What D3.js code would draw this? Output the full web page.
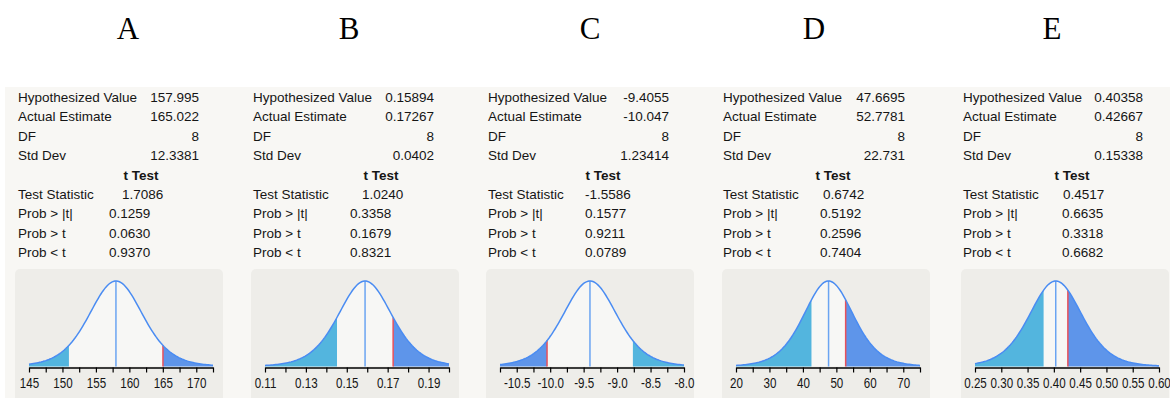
<!DOCTYPE html>
<html>
<head>
<meta charset="utf-8">
<script src="https://cdn.jsdelivr.net/npm/d3@7"></script>
<style>
  html, body { margin: 0; padding: 0; background: #ffffff; }
  svg { display: block; }
</style>
</head>
<body>
<div id="grafico"></div>
<script>
/* global d3 */

// Dados
const letters = ['A', 'B', 'C', 'D', 'E']
const hypValues = [157.995, 0.15894, -9.4055, 47.6695, 0.40358]
const actualEstimates = [165.022, 0.17267, -10.047, 52.7781, 0.42667]
const dfValues = [8, 8, 8, 8, 8]
const stdDevs = [12.3381, 0.0402, 1.23414, 22.731, 0.15338]
const stdDevLabels = ['12.3381', '0.0402', '1.23414', '22.731', '0.15338']
const testStats = ['1.7086', '1.0240', '-1.5586', '0.6742', '0.4517']
const probTwoSided = ['0.1259', '0.3358', '0.1577', '0.5192', '0.6635']
const probGreater = ['0.0630', '0.1679', '0.9211', '0.2596', '0.3318']
const probLess = ['0.9370', '0.8321', '0.0789', '0.7404', '0.6682']

// Eixos
const axisDomains = [[145, 172.5], [0.11, 0.20], [-10.75, -8.0], [20, 75], [0.25, 0.60]]
const tickSteps = [2.5, 0.01, 0.25, 5, 0.05]
const tickLabelValues = [
  [145, 150, 155, 160, 165, 170],
  [0.11, 0.13, 0.15, 0.17, 0.19],
  [-10.5, -10.0, -9.5, -9.0, -8.5, -8.0],
  [20, 30, 40, 50, 60, 70],
  [0.25, 0.30, 0.35, 0.40, 0.45, 0.50, 0.55, 0.60]
]
const tickLabelTexts = [
  ['145', '150', '155', '160', '165', '170'],
  ['0.11', '0.13', '0.15', '0.17', '0.19'],
  ['-10.5', '-10.0', '-9.5', '-9.0', '-8.5', '-8.0'],
  ['20', '30', '40', '50', '60', '70'],
  ['0.25', '0.30', '0.35', '0.40', '0.45', '0.50', '0.55', '0.60']
]

// Layout (posições de cada painel)
const width = 1170
const height = 398
const boxX = [15, 251, 486, 722, 961]
const letterX = [128, 349, 590, 814, 1052]
const labelX = [18, 253, 488, 723, 963]
const valueRight = [199, 434, 669, 905, 1143]
const tTestX = [141, 381, 603, 833, 1072]
const statX = [122, 362, 585, 823, 1063]
const probX = [109, 350, 585, 820, 1062]

const textFont = '"Liberation Sans", Arial, sans-serif'
const textColor = '#151515'
const curveColor = '#4a8cf2'
const centerColor = '#6aa4f2'
const actualColor = '#e8505a'
const beyondColor = '#5e95ea'
const mirrorColor = '#53b5de'
const innerColor = '#f7f7f5'

const rowY = d3.range(9).map(i => 102 + i * 19.4)
const boxTop = 269
const boxW = 208
const axisY = 367.5
const curveBase = 366.5
const peakY = 281

const svg = d3.select('#grafico')
  .append('svg')
  .attr('width', width)
  .attr('height', height)
  .attr('viewBox', `0 0 ${width} ${height}`)

svg.append('rect')
  .attr('x', 5)
  .attr('y', 87)
  .attr('width', width - 5)
  .attr('height', height - 87)
  .attr('fill', '#f8f7f4')

letters.forEach((letter, i) => {
  const g = svg.append('g')

  // Letra do painel
  g.append('text')
    .attr('x', letterX[i])
    .attr('y', 39)
    .attr('text-anchor', 'middle')
    .style('font-family', '"Liberation Serif", "Times New Roman", serif')
    .style('font-size', '31px')
    .style('fill', '#000')
    .text(letter)

  // Tabela de resultados
  const addText = (x, y, txt, anchor = 'start', weight = 'normal') => {
    g.append('text')
      .attr('x', x)
      .attr('y', y)
      .attr('text-anchor', anchor)
      .style('font-family', textFont)
      .style('font-size', '13.5px')
      .style('font-weight', weight)
      .style('fill', textColor)
      .text(txt)
  }

  const topRows = [
    ['Hypothesized Value', String(hypValues[i])],
    ['Actual Estimate', String(actualEstimates[i])],
    ['DF', String(dfValues[i])],
    ['Std Dev', stdDevLabels[i]]
  ]
  topRows.forEach((r, k) => {
    addText(labelX[i], rowY[k], r[0])
    addText(valueRight[i], rowY[k], r[1], 'end')
  })

  addText(tTestX[i], rowY[4], 't Test', 'middle', 'bold')
  addText(labelX[i], rowY[5], 'Test Statistic')
  addText(statX[i], rowY[5], testStats[i])

  const probRows = [
    ['Prob > |t|', probTwoSided[i]],
    ['Prob > t', probGreater[i]],
    ['Prob < t', probLess[i]]
  ]
  probRows.forEach((r, k) => {
    addText(labelX[i], rowY[6 + k], r[0])
    addText(probX[i], rowY[6 + k], r[1])
  })

  // Caixa do gráfico
  g.append('rect')
    .attr('x', boxX[i])
    .attr('y', boxTop)
    .attr('width', boxW)
    .attr('height', 140)
    .attr('rx', 5)
    .attr('fill', '#eeede9')

  const x = d3.scaleLinear()
    .domain(axisDomains[i])
    .range([boxX[i] + 14, boxX[i] + 198])

  const y = d3.scaleLinear()
    .domain([0, 1])
    .range([curveBase, peakY])

  // Densidade t centrada no valor hipotético
  const df = dfValues[i]
  const se = stdDevs[i] / Math.sqrt(df + 1)
  const dens = v => {
    const t = (v - hypValues[i]) / se
    return Math.pow(1 + t * t / df, -(df + 1) / 2)
  }

  const [d0, d1] = axisDomains[i]
  const sample = (a, b) => {
    const n = 120
    return d3.range(n + 1).map(k => a + (b - a) * k / n)
  }

  const area = d3.area()
    .x(d => x(d))
    .y0(curveBase)
    .y1(d => y(dens(d)))

  const hyp = hypValues[i]
  const act = actualEstimates[i]
  const mirror = 2 * hyp - act

  g.append('path')
    .attr('d', area(sample(d0, d1)))
    .attr('fill', innerColor)

  const beyond = act > hyp ? [act, d1] : [d0, act]
  const mirrored = act > hyp ? [d0, mirror] : [mirror, d1]

  g.append('path')
    .attr('d', area(sample(mirrored[0], mirrored[1])))
    .attr('fill', mirrorColor)

  g.append('path')
    .attr('d', area(sample(beyond[0], beyond[1])))
    .attr('fill', beyondColor)

  g.append('line')
    .attr('x1', x(hyp))
    .attr('x2', x(hyp))
    .attr('y1', curveBase)
    .attr('y2', y(dens(hyp)))
    .attr('stroke', centerColor)
    .attr('stroke-width', 1.5)

  g.append('line')
    .attr('x1', x(act))
    .attr('x2', x(act))
    .attr('y1', curveBase)
    .attr('y2', y(dens(act)))
    .attr('stroke', actualColor)
    .attr('stroke-width', 1.5)

  g.append('path')
    .attr('d', d3.line().x(d => x(d)).y(d => y(dens(d)))(sample(d0, d1)))
    .attr('fill', 'none')
    .attr('stroke', curveColor)
    .attr('stroke-width', 1.5)

  // Eixo x
  const step = tickSteps[i]
  const ticks = d3.range(Math.round((d1 - d0) / step) + 1).map(k => d0 + k * step)
  const fmt = v => {
    const idx = tickLabelValues[i].findIndex(lv => Math.abs(lv - v) < step / 10)
    return idx >= 0 ? tickLabelTexts[i][idx] : ''
  }

  g.append('g')
    .attr('transform', `translate(0,${axisY})`)
    .call(d3.axisBottom(x).tickValues(ticks).tickFormat(fmt).tickSize(5).tickSizeOuter(0).tickPadding(5))
    .call(ax => ax.select('.domain').attr('stroke', '#000').attr('stroke-width', 1.5))
    .call(ax => ax.selectAll('.tick line').attr('stroke', '#000').attr('stroke-width', 1.2))
    .call(ax => ax.selectAll('.tick text')
      .style('font-family', textFont)
      .style('font-size', '14.5px')
      .style('fill', textColor)
      .each(function () {
        // fonte um pouco mais estreita, como no original
        const len = this.getComputedTextLength()
        if (len > 0) {
          d3.select(this)
            .attr('textLength', len * 0.8)
            .attr('lengthAdjust', 'spacingAndGlyphs')
        }
      }))
})
</script>
</body>
</html>
